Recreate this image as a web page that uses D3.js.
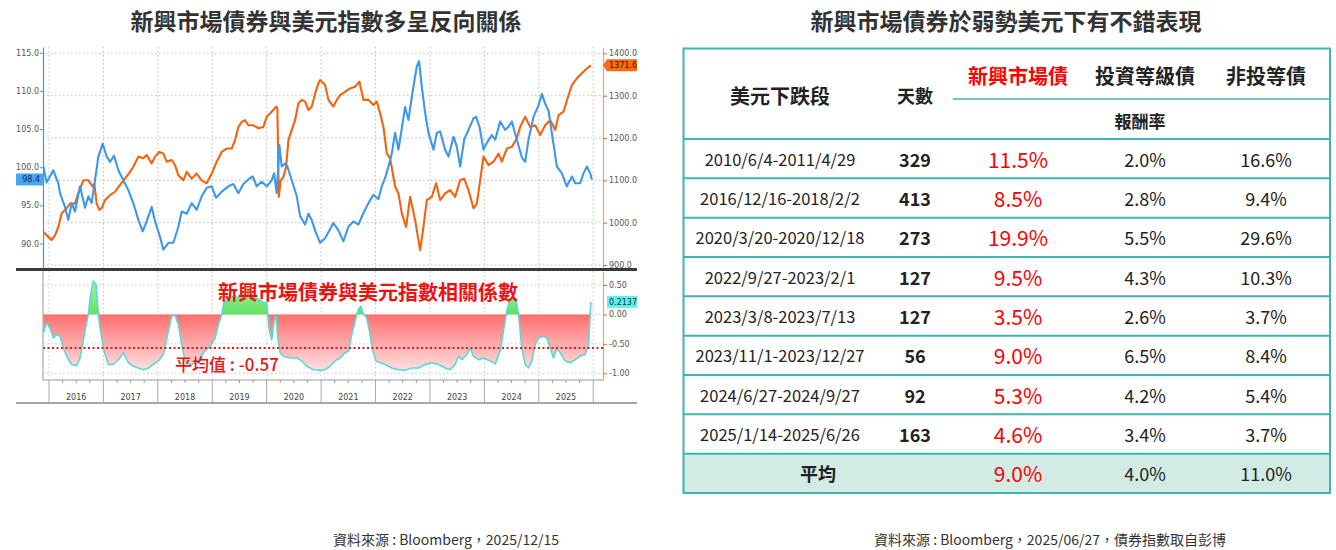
<!DOCTYPE html>
<html><head><meta charset="utf-8">
<script src="https://cdn.jsdelivr.net/npm/d3@7/dist/d3.min.js"></script>
<style>
html,body{margin:0;padding:0;background:#fff;}
svg{display:block;font-family:"Noto Sans CJK TC","Noto Sans",sans-serif;}
</style></head><body>
<svg id="c" width="1336" height="550"></svg>
<script>
// ---------------- DATA ----------------
const yearLabels = ["2016","2017","2018","2019","2020","2021","2022","2023","2024","2025"];
const yearBounds = [2016,2017,2018,2019,2020,2021,2022,2023,2024,2025,2026];
const leftTicks = [90,95,100,105,110,115];
const rightTicks = [900,1000,1100,1200,1300,1400];
const corrTicks = [0.5,0,-0.5,-1.0];

// US dollar index (left axis), decimal-year dates
const dxyYear = [2015.896,2015.957,2016.080,2016.172,2016.202,2016.294,2016.355,2016.417,2016.478,2016.570,2016.662,2016.723,2016.784,2016.846,2016.907,2016.987,
2017.060,2017.121,2017.195,2017.275,2017.366,2017.458,2017.550,2017.642,2017.722,2017.795,2017.887,2017.949,
2018.040,2018.102,2018.194,2018.286,2018.377,2018.439,2018.531,2018.623,2018.714,2018.806,2018.898,2018.990,
2019.070,2019.174,2019.297,2019.388,2019.480,2019.572,2019.664,2019.743,2019.817,2019.909,
2020.001,2020.093,2020.136,2020.185,2020.234,2020.277,2020.338,2020.381,2020.461,2020.553,2020.614,2020.706,2020.767,2020.828,2020.890,2020.982,
2021.074,2021.227,2021.319,2021.410,2021.502,2021.594,2021.686,2021.778,2021.870,2021.962,
2022.054,2022.115,2022.176,2022.238,2022.299,2022.360,2022.422,2022.483,2022.544,2022.605,2022.667,2022.728,2022.759,2022.801,2022.850,2022.912,2022.973,
2023.065,2023.126,2023.188,2023.279,2023.341,2023.433,2023.494,2023.555,2023.629,2023.708,2023.800,2023.849,2023.910,2023.984,
2024.045,2024.137,2024.199,2024.290,2024.382,2024.444,2024.505,2024.597,2024.689,2024.750,2024.811,2024.903,2024.995,
2025.056,2025.118,2025.179,2025.240,2025.332,2025.424,2025.516,2025.608,2025.669,2025.761,2025.822,2025.884,2025.945,2025.975];
const dxyValue = [100.1,98.0,99.6,97.9,96.6,94.8,93.1,95.3,94.2,97.5,94.7,96.2,95.3,98.3,101.4,103.1,
101.4,100.7,101.5,99.6,98.3,97.0,95.3,93.1,91.6,92.9,94.8,92.9,
90.9,89.2,90.1,90.1,92.2,94.2,93.9,95.3,94.4,96.2,97.3,97.5,
96.0,96.8,97.5,97.8,96.6,97.8,98.4,98.8,97.5,98.1,
97.5,98.3,99.2,96.6,102.9,100.1,100.5,100.1,98.3,96.2,93.6,92.5,93.9,93.1,91.7,90.1,
90.7,92.7,91.7,90.3,92.2,92.9,92.5,94.0,95.3,96.4,
95.8,97.5,98.6,100.1,101.8,104.5,102.3,105.1,107.9,106.2,109.2,111.9,113.2,113.9,110.6,107.1,104.5,
102.3,104.5,104.7,102.3,101.4,104.0,102.7,100.1,103.6,104.9,106.4,106.6,105.3,102.3,
103.2,104.2,103.6,106.0,104.9,105.3,106.0,103.6,101.3,100.7,103.6,106.6,108.1,
109.6,108.3,107.4,104.5,100.1,99.2,97.5,98.8,97.9,97.9,99.2,100.1,99.2,98.4];

// EM bond index (right axis)
const emYear = [2015.896,2015.957,2016.049,2016.110,2016.172,2016.233,2016.325,2016.386,2016.478,2016.539,2016.631,2016.723,2016.803,2016.833,2016.876,2016.925,2016.968,
2017.029,2017.121,2017.213,2017.305,2017.397,2017.489,2017.550,2017.642,2017.734,2017.795,2017.887,2017.949,
2018.028,2018.102,2018.163,2018.255,2018.316,2018.377,2018.469,2018.531,2018.623,2018.714,2018.806,2018.898,2018.990,
2019.082,2019.174,2019.266,2019.358,2019.419,2019.480,2019.542,2019.603,2019.664,2019.756,2019.848,2019.940,
2020.001,2020.093,2020.173,2020.197,2020.222,2020.259,2020.308,2020.357,2020.400,2020.461,2020.522,2020.583,2020.645,2020.706,2020.767,2020.828,2020.890,2020.951,2020.982,
2021.074,2021.135,2021.227,2021.288,2021.349,2021.441,2021.533,2021.625,2021.705,2021.778,2021.870,2021.962,
2022.023,2022.085,2022.146,2022.207,2022.268,2022.360,2022.422,2022.483,2022.562,2022.636,2022.728,2022.820,2022.881,2022.942,
2023.034,2023.114,2023.188,2023.279,2023.371,2023.463,2023.555,2023.629,2023.708,2023.800,2023.862,2023.923,2023.984,
2024.076,2024.168,2024.260,2024.321,2024.413,2024.505,2024.597,2024.658,2024.750,2024.842,2024.934,
2025.026,2025.118,2025.210,2025.302,2025.363,2025.455,2025.547,2025.608,2025.700,2025.792,2025.884,2025.958];
const emValue = [978,970,959,970,990,1022,1034,1045,1045,1069,1100,1100,1085,1092,1045,1030,1034,
1053,1065,1073,1089,1104,1120,1132,1156,1152,1160,1140,1156,
1167,1163,1144,1148,1136,1112,1100,1120,1104,1116,1100,1093,1116,
1144,1167,1175,1175,1195,1226,1238,1242,1230,1230,1223,1226,
1250,1262,1274,1270,1061,1100,1108,1132,1195,1219,1242,1282,1290,1286,1266,1274,1305,1329,1337,
1325,1290,1274,1290,1301,1309,1317,1321,1333,1290,1290,1278,
1286,1258,1226,1164,1152,1085,1069,1022,990,1061,1006,935,990,1053,
1061,1093,1053,1069,1077,1061,1100,1104,1077,1034,1045,1100,1156,
1136,1144,1163,1144,1175,1179,1199,1226,1250,1226,1230,
1207,1230,1242,1219,1254,1262,1301,1325,1341,1353,1364,1371.6];

// correlation coefficient (lower panel)
const corrYear = [2015.896,2015.957,2016.018,2016.080,2016.141,2016.202,2016.263,2016.325,2016.417,2016.509,2016.570,2016.662,2016.723,2016.766,2016.815,2016.864,2016.907,2016.938,
2017.011,2017.091,2017.183,2017.275,2017.366,2017.458,2017.550,2017.642,2017.734,2017.826,2017.918,
2018.010,2018.102,2018.194,2018.255,2018.316,2018.377,2018.439,2018.500,2018.592,2018.714,2018.837,2018.960,
2019.051,2019.113,2019.174,2019.217,2019.297,2019.389,2019.511,2019.634,2019.756,2019.848,2019.940,
2020.001,2020.020,2020.050,2020.093,2020.136,2020.173,2020.204,2020.246,2020.308,2020.430,2020.553,2020.645,2020.737,2020.859,2020.982,
2021.074,2021.165,2021.257,2021.349,2021.441,2021.502,2021.564,2021.625,2021.686,2021.729,2021.778,2021.839,2021.888,2021.950,
2022.011,2022.085,2022.176,2022.299,2022.422,2022.544,2022.667,2022.789,2022.912,
2023.034,2023.157,2023.279,2023.371,2023.463,2023.525,2023.586,2023.678,2023.739,2023.800,2023.892,2023.984,
2024.107,2024.199,2024.290,2024.352,2024.413,2024.462,2024.523,2024.585,2024.627,2024.689,2024.750,2024.811,2024.873,2024.934,2024.995,
2025.087,2025.148,2025.210,2025.271,2025.332,2025.393,2025.485,2025.577,2025.669,2025.761,2025.853,2025.914,2025.957];
const corrValue = [-0.31,-0.14,-0.23,-0.40,-0.34,-0.37,-0.57,-0.71,-0.85,-0.87,-0.74,-0.28,0.0,0.34,0.57,0.51,0.0,-0.23,
-0.62,-0.85,-0.85,-0.77,-0.65,-0.82,-0.88,-0.91,-0.94,-0.91,-0.85,
-0.79,-0.68,-0.28,-0.03,-0.01,-0.17,-0.51,-0.79,-0.85,-0.82,-0.65,-0.54,
-0.40,-0.17,0.0,0.20,0.28,0.31,0.28,0.34,0.31,0.26,0.20,
0.20,0.0,-0.28,-0.43,-0.11,-0.01,-0.40,-0.65,-0.71,-0.74,-0.74,-0.79,-0.88,-0.94,-0.95,
-0.94,-0.88,-0.79,-0.74,-0.65,-0.62,-0.34,-0.11,0.09,0.14,0.01,-0.06,-0.28,-0.62,
-0.79,-0.82,-0.85,-0.91,-0.94,-0.95,-0.91,-0.91,-0.85,
-0.82,-0.85,-0.91,-0.94,-0.85,-0.71,-0.77,-0.68,-0.57,-0.71,-0.77,-0.74,
-0.79,-0.84,-0.62,-0.28,0.06,0.23,0.28,0.23,0.0,-0.57,-0.85,-0.91,-0.79,-0.51,-0.40,
-0.37,-0.40,-0.57,-0.74,-0.57,-0.65,-0.79,-0.82,-0.77,-0.71,-0.68,-0.51,0.2137];
const corrAverage = -0.57;
const lastDxy = 98.4, lastEm = 1371.6, lastCorr = 0.2137;

// table
const tableTitle = "新興市場債券於弱勢美元下有不錯表現";
const periods = ["2010/6/4-2011/4/29","2016/12/16-2018/2/2","2020/3/20-2020/12/18","2022/9/27-2023/2/1","2023/3/8-2023/7/13","2023/11/1-2023/12/27","2024/6/27-2024/9/27","2025/1/14-2025/6/26"];
const days = [329,413,273,127,127,56,92,163];
const emReturn = [11.5,8.5,19.9,9.5,3.5,9.0,5.3,4.6];
const igReturn = [2.0,2.8,5.5,4.3,2.6,6.5,4.2,3.4];
const hyReturn = [16.6,9.4,29.6,10.3,3.7,8.4,5.4,3.7];
const averageReturn = [9.0,4.0,11.0];

// ---------------- DRAW ----------------
const svg = d3.select("#c");
const AX = "DejaVu Sans, sans-serif";
const blue = "#3d97ea", orange = "#f5620c", teal = "#3fb3b0";
const hy = s => s.replace("\u2212","-");

// titles
svg.append("text").attr("x",326).attr("y",30).attr("text-anchor","middle")
  .attr("font-size",23).attr("font-weight",700).attr("fill","#333").text("新興市場債券與美元指數多呈反向關係");
svg.append("text").attr("x",1006).attr("y",30).attr("text-anchor","middle")
  .attr("font-size",23).attr("font-weight",700).attr("fill","#333").text(tableTitle);

// scales
const x = d3.scaleLinear().domain([2015.89, 2026.18]).range([43, 603]);
const yL = d3.scaleLinear().domain([86.8, 115.75]).range([268, 47]);
const yR = d3.scaleLinear().domain([892.9, 1414.9]).range([268, 47]);
const yC = d3.scaleLinear().domain([-1.114, 0.738]).range([380, 271]);

const defs = svg.append("defs");
defs.append("clipPath").attr("id","clipTop").append("rect").attr("x",43).attr("y",47).attr("width",560).attr("height",221);
defs.append("clipPath").attr("id","clipBot").append("rect").attr("x",43).attr("y",271).attr("width",560).attr("height",109);
const gr = defs.append("linearGradient").attr("id","gRed").attr("gradientUnits","userSpaceOnUse")
  .attr("x1",0).attr("x2",0).attr("y1",yC(0)).attr("y2",yC(-1));
gr.append("stop").attr("offset",0).attr("stop-color","#ff6e6e");
gr.append("stop").attr("offset",1).attr("stop-color","#ffe6e6");
const gg = defs.append("linearGradient").attr("id","gGreen").attr("gradientUnits","userSpaceOnUse")
  .attr("x1",0).attr("x2",0).attr("y1",yC(0.6)).attr("y2",yC(0));
gg.append("stop").attr("offset",0).attr("stop-color","#a6f3a6");
gg.append("stop").attr("offset",1).attr("stop-color","#63e063");

// --- top panel grid
const gTop = svg.append("g");
gTop.selectAll("line.hg").data(rightTicks).join("line")
  .attr("x1",43).attr("x2",603).attr("y1",d=>yR(d)).attr("y2",d=>yR(d))
  .attr("stroke","#bdbdbd").attr("stroke-dasharray","1.5,2.5");
gTop.selectAll("line.vg").data(yearBounds).join("line")
  .attr("x1",d=>x(d)).attr("x2",d=>x(d)).attr("y1",47).attr("y2",268)
  .attr("stroke","#bdbdbd").attr("stroke-dasharray","1.5,2.5");

// lines
const lineEm = d3.line().x((d,i)=>x(emYear[i])).y(d=>yR(d));
const lineDxy = d3.line().x((d,i)=>x(dxyYear[i])).y(d=>yL(d));
gTop.append("path").attr("clip-path","url(#clipTop)").attr("d",lineEm(emValue))
  .attr("fill","none").attr("stroke",orange).attr("stroke-width",2.1).attr("stroke-linejoin","round");
gTop.append("path").attr("clip-path","url(#clipTop)").attr("d",lineDxy(dxyValue))
  .attr("fill","none").attr("stroke",blue).attr("stroke-width",2.1).attr("stroke-linejoin","round");

// axes top
const axL = svg.append("g").attr("transform","translate(43,0)")
  .call(d3.axisLeft(yL).tickValues(leftTicks).tickFormat(d3.format(".1f")).tickSize(3).tickSizeOuter(0).tickPadding(1));
axL.select(".domain").attr("stroke",blue).attr("stroke-width",1.2);
axL.selectAll(".tick line").attr("stroke",blue);
axL.selectAll("text").attr("font-family",AX).attr("font-size",8).attr("fill","#555");
const axR = svg.append("g").attr("transform","translate(603,0)")
  .call(d3.axisRight(yR).tickValues(rightTicks).tickFormat(d3.format(".1f")).tickSize(4).tickSizeOuter(0).tickPadding(2));
axR.select(".domain").attr("stroke","#f7a060").attr("stroke-width",1.2);
axR.selectAll(".tick line").attr("stroke",orange);
axR.selectAll("text").attr("font-family",AX).attr("font-size",8).attr("fill","#555");

// value tags
const cyD = yL(lastDxy);
svg.append("rect").attr("x",16).attr("y",cyD-6).attr("width",27).attr("height",12).attr("fill","#4aa5f2");
svg.append("text").attr("x",40).attr("y",cyD+3).attr("text-anchor","end").attr("font-family",AX)
  .attr("font-size",8).attr("fill","#0d2a55").text(d3.format(".1f")(lastDxy));
const cyE = yR(lastEm);
svg.append("path").attr("d",`M603,${cyE} L607,${cyE-6} L637,${cyE-6} L637,${cyE+6} L607,${cyE+6} Z`).attr("fill","#fb6a12");
svg.append("text").attr("x",609).attr("y",cyE+3).attr("font-family",AX).attr("font-size",8).attr("fill","#3a1200").text(d3.format(".1f")(lastEm));

// separator thick line
svg.append("line").attr("x1",16).attr("x2",637).attr("y1",269.5).attr("y2",269.5).attr("stroke","#3a3a3a").attr("stroke-width",3);

// --- lower panel
const gBot = svg.append("g");
gBot.selectAll("line.hg").data(corrTicks).join("line")
  .attr("x1",43).attr("x2",603).attr("y1",d=>yC(d)).attr("y2",d=>yC(d))
  .attr("stroke","#c4c4c4").attr("stroke-dasharray","1.5,2.5");
gBot.selectAll("line.vg").data(yearBounds).join("line")
  .attr("x1",d=>x(d)).attr("x2",d=>x(d)).attr("y1",271).attr("y2",380)
  .attr("stroke","#c4c4c4").attr("stroke-dasharray","1.5,2.5");

// insert zero crossings for clean fills
const pts = [];
corrValue.forEach((v,i)=>{
  pts.push({t:corrYear[i], v:v});
  if (i < corrValue.length-1) {
    const w = corrValue[i+1];
    if (v*w < 0) pts.push({t: corrYear[i] + (corrYear[i+1]-corrYear[i])*(v/(v-w)), v:0});
  }
});
const areaNeg = d3.area().x(d=>x(d.t)).y0(yC(0)).y1(d=>yC(Math.min(d.v,0)));
const areaPos = d3.area().x(d=>x(d.t)).y0(yC(0)).y1(d=>yC(Math.max(d.v,0)));
gBot.append("path").attr("clip-path","url(#clipBot)").attr("d",areaNeg(pts)).attr("fill","url(#gRed)");
gBot.append("path").attr("clip-path","url(#clipBot)").attr("d",areaPos(pts)).attr("fill","url(#gGreen)");
gBot.append("path").attr("clip-path","url(#clipBot)")
  .attr("d",d3.line().x(d=>x(d.t)).y(d=>yC(d.v))(pts))
  .attr("fill","none").attr("stroke","#58d8d6").attr("stroke-width",1.6).attr("stroke-linejoin","round");

// average line
gBot.append("line").attr("x1",43).attr("x2",603).attr("y1",yC(corrAverage)).attr("y2",yC(corrAverage))
  .attr("stroke","#e8141b").attr("stroke-width",2).attr("stroke-dasharray","2,2.5");
gBot.append("text").attr("x",175).attr("y",371).attr("font-size",17).attr("fill","#ee1111").attr("font-weight",500)
  .text("平均值 : " + hy(d3.format(".2f")(corrAverage)));
gBot.append("text").attr("x",218).attr("y",300).attr("font-size",20).attr("font-weight",700).attr("fill","#f01010")
  .text("新興市場債券與美元指數相關係數");

// lower frame
svg.append("line").attr("x1",43).attr("x2",43).attr("y1",271).attr("y2",380).attr("stroke","#999");
svg.append("line").attr("x1",43).attr("x2",603).attr("y1",380).attr("y2",380).attr("stroke","#999");
const axC = svg.append("g").attr("transform","translate(603,0)")
  .call(d3.axisRight(yC).tickValues(corrTicks).tickFormat(d=>hy(d3.format(".2f")(d))).tickSize(4).tickSizeOuter(0).tickPadding(2));
axC.select(".domain").attr("stroke","#f7a060").attr("stroke-width",1.2);
axC.selectAll(".tick line").attr("stroke",orange);
axC.selectAll("text").attr("font-family",AX).attr("font-size",8).attr("fill","#555");
const cyC = yC(lastCorr);
svg.append("rect").attr("x",607).attr("y",cyC-6).attr("width",30).attr("height",12).attr("fill","#62eeee");
svg.append("text").attr("x",609).attr("y",cyC+3).attr("font-family",AX).attr("font-size",8).attr("fill","#073838").text(d3.format(".4f")(lastCorr));

// year band
const quarters = d3.range(2016, 2026, 0.25).filter(q=>q%1!==0);
svg.selectAll("line.qt").data(quarters).join("line")
  .attr("x1",d=>x(d)).attr("x2",d=>x(d)).attr("y1",380).attr("y2",383).attr("stroke","#999");
svg.selectAll("line.ys").data(yearBounds).join("line")
  .attr("x1",d=>x(d)).attr("x2",d=>x(d)).attr("y1",380).attr("y2",402).attr("stroke","#aaa");
svg.selectAll("text.yl").data(yearLabels).join("text")
  .attr("x",(d,i)=>(x(yearBounds[i])+x(yearBounds[i+1]))/2).attr("y",400)
  .attr("text-anchor","middle").attr("font-family",AX).attr("font-size",8).attr("fill","#444").text(d=>d);
svg.append("line").attr("x1",16).attr("x2",637).attr("y1",403).attr("y2",403).attr("stroke","#888").attr("stroke-width",1.5);

// footers
svg.append("text").attr("x",446).attr("y",545).attr("text-anchor","middle").attr("font-size",14).attr("fill","#333")
  .text("資料來源 : Bloomberg，2025/12/15");
svg.append("text").attr("x",1050).attr("y",545).attr("text-anchor","middle").attr("font-size",14).attr("fill","#333")
  .text("資料來源 : Bloomberg，2025/06/27，債券指數取自彭博");

// ---------------- TABLE ----------------
const colX = [780, 915, 1018, 1145, 1266];
const tL = 683.5, tR = 1330, tTop = 48.5, tBot = 493;
const rowY = d3.scaleBand().domain(d3.range(periods.length+1)).range([139, tBot]);
const pct = d3.format(".1f");
const tg = svg.append("g");
// average row fill
tg.append("rect").attr("x",tL).attr("y",rowY(periods.length)).attr("width",tR-tL).attr("height",rowY.bandwidth()).attr("fill","#d2ece5");
// headers
const hdr = [
  {t:"美元下跌段", x:colX[0], y:95, c:"#222", s:20},
  {t:"天數", x:colX[1], y:95, c:"#222", s:18},
  {t:"新興市場債", x:colX[2], y:75, c:"#ff0000", s:20},
  {t:"投資等級債", x:colX[3], y:75, c:"#222", s:20},
  {t:"非投等債", x:colX[4], y:75, c:"#222", s:20},
  {t:"報酬率", x:1140, y:120, c:"#222", s:17}
];
tg.selectAll("text.h").data(hdr).join("text")
  .attr("x",d=>d.x).attr("y",d=>d.y).attr("text-anchor","middle").attr("dominant-baseline","central")
  .attr("font-size",d=>d.s).attr("font-weight",700).attr("fill",d=>d.c).text(d=>d.t);
// rows
const rows = tg.selectAll("g.r").data(periods).join("g").attr("transform",(d,i)=>`translate(0,${rowY(i)+rowY.bandwidth()/2})`);
rows.append("text").attr("x",colX[0]).attr("text-anchor","middle").attr("dominant-baseline","central")
  .attr("font-size",16.5).attr("fill","#222").text(d=>d);
rows.append("text").attr("x",colX[1]).attr("text-anchor","middle").attr("dominant-baseline","central")
  .attr("font-size",18).attr("font-weight",700).attr("fill","#222").text((d,i)=>days[i]);
rows.append("text").attr("x",colX[2]).attr("text-anchor","middle").attr("dominant-baseline","central")
  .attr("font-size",21).attr("fill","#ff0000").text((d,i)=>pct(emReturn[i])+"%");
rows.append("text").attr("x",colX[3]).attr("text-anchor","middle").attr("dominant-baseline","central")
  .attr("font-size",18).attr("fill","#222").text((d,i)=>pct(igReturn[i])+"%");
rows.append("text").attr("x",colX[4]).attr("text-anchor","middle").attr("dominant-baseline","central")
  .attr("font-size",18).attr("fill","#222").text((d,i)=>pct(hyReturn[i])+"%");
// average row
const ay = rowY(periods.length)+rowY.bandwidth()/2;
tg.append("text").attr("x",818).attr("y",ay).attr("text-anchor","middle").attr("dominant-baseline","central")
  .attr("font-size",18).attr("font-weight",700).attr("fill","#222").text("平均");
tg.selectAll("text.avg").data(averageReturn).join("text")
  .attr("x",(d,i)=>colX[i+2]).attr("y",ay).attr("text-anchor","middle").attr("dominant-baseline","central")
  .attr("font-size",(d,i)=>i===0?21:18).attr("fill",(d,i)=>i===0?"#ff0000":"#222").text(d=>pct(d)+"%");
// rules
const ruleYs = d3.range(periods.length+1).map(i=>rowY(i));
tg.selectAll("line.rule").data(ruleYs).join("line")
  .attr("x1",tL).attr("x2",tR).attr("y1",d=>d).attr("y2",d=>d).attr("stroke",teal).attr("stroke-width",2);
tg.append("line").attr("x1",953).attr("x2",tR).attr("y1",99).attr("y2",99).attr("stroke",teal).attr("stroke-width",1.5);
tg.append("rect").attr("x",tL).attr("y",tTop).attr("width",tR-tL).attr("height",tBot-tTop)
  .attr("fill","none").attr("stroke",teal).attr("stroke-width",2);
</script>
</body></html>
